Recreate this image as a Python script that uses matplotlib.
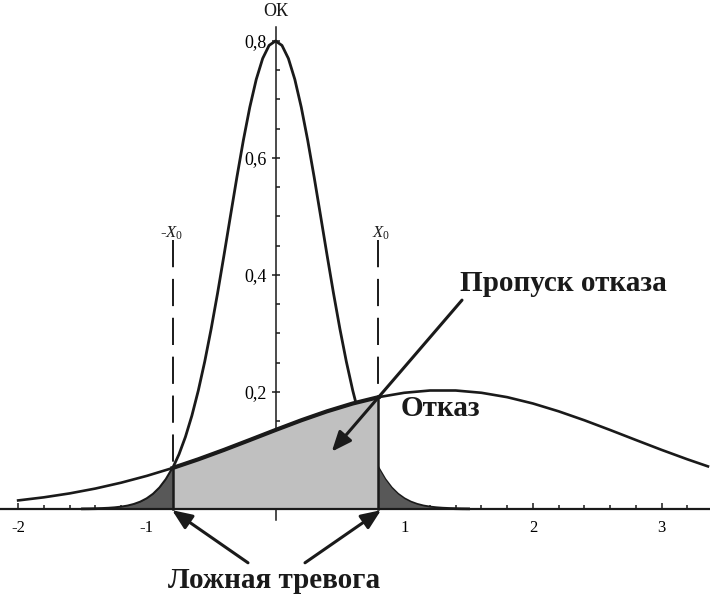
import numpy as np
import matplotlib.pyplot as plt

plt.rcParams['font.family'] = ['Liberation Serif', 'DejaVu Serif']
plt.rcParams['mathtext.fontset'] = 'custom'
plt.rcParams['mathtext.rm'] = 'Liberation Serif'
plt.rcParams['mathtext.it'] = 'Liberation Serif:italic'

# "ОК" curve (narrow)
ok_x = [-1.50, -1.45, -1.40, -1.35, -1.30, -1.25, -1.20, -1.15, -1.10, -1.05,
        -1.00, -0.95, -0.90, -0.85, -0.80, -0.75, -0.70, -0.65, -0.60, -0.55,
        -0.50, -0.45, -0.40, -0.35, -0.30, -0.25, -0.20, -0.15, -0.10, -0.05,
        0.00, 0.05, 0.10, 0.15, 0.20, 0.25, 0.30, 0.35, 0.40, 0.45,
        0.50, 0.55, 0.60, 0.65, 0.70, 0.75, 0.80, 0.85, 0.90, 0.95,
        1.00, 1.05, 1.10, 1.15, 1.20, 1.25, 1.30, 1.35, 1.40, 1.45, 1.50]
ok_y = [0.0002, 0.0003, 0.0005, 0.0008, 0.0013, 0.0021, 0.0033, 0.0051, 0.0079, 0.0119,
        0.0176, 0.0255, 0.0363, 0.0508, 0.0695, 0.0935, 0.1233, 0.1595, 0.2025, 0.2521,
        0.3081, 0.3693, 0.4344, 0.5012, 0.5674, 0.6302, 0.6867, 0.7342, 0.7700, 0.7924,
        0.8000, 0.7924, 0.7700, 0.7342, 0.6867, 0.6302, 0.5674, 0.5012, 0.4344, 0.3693,
        0.3081, 0.2521, 0.2025, 0.1595, 0.1233, 0.0935, 0.0695, 0.0508, 0.0363, 0.0255,
        0.0176, 0.0119, 0.0079, 0.0051, 0.0033, 0.0021, 0.0013, 0.0008, 0.0005, 0.0003, 0.0002]

# "Отказ" curve (wide)
fail_x = [-2.0, -1.8, -1.6, -1.4, -1.2, -1.0, -0.8, -0.6, -0.4, -0.2,
          0.0, 0.2, 0.4, 0.6, 0.8, 1.0, 1.2, 1.4, 1.6, 1.8,
          2.0, 2.2, 2.4, 2.6, 2.8, 3.0, 3.2, 3.36]
fail_y = [0.0146, 0.0199, 0.0266, 0.0349, 0.0449, 0.0566, 0.0700, 0.0849, 0.1010, 0.1179,
          0.1350, 0.1516, 0.1669, 0.1803, 0.1911, 0.1986, 0.2025, 0.2025, 0.1986, 0.1911,
          0.1803, 0.1669, 0.1516, 0.1350, 0.1179, 0.1010, 0.0849, 0.0728]

x0 = 0.8  # threshold X0

x_major = [-2, -1, 1, 2, 3]
x_labels = ['-2', '-1', '1', '2', '3']
y_major = [0.2, 0.4, 0.6, 0.8]
y_labels = ['0,2', '0,4', '0,6', '0,8']

ink = '#1a1a1a'
light = '#c0c0c0'
dark = '#585858'

ox, oy = np.array(ok_x), np.array(ok_y)
fx, fy = np.array(fail_x), np.array(fail_y)

fig = plt.figure(figsize=(7.1, 6), dpi=100)
ax = fig.add_axes([0, 0, 1, 1])
ax.set_xlim(-2.141, 3.376)
ax.set_ylim(-0.1556, 0.870)

for s in ['top', 'right']:
    ax.spines[s].set_visible(False)
ax.spines['left'].set_position(('data', 0))
ax.spines['bottom'].set_position(('data', 0))
ax.spines['left'].set_bounds(-0.019, 0.824)
ax.spines['left'].set_linewidth(1.1)
ax.spines['bottom'].set_linewidth(1.6)
ax.spines['bottom'].set_zorder(5)
ax.spines['left'].set_color(ink)
ax.spines['bottom'].set_color(ink)

ax.set_xticks(x_major, x_labels)
ax.set_xticks([v for v in np.round(np.arange(-2, 3.3, 0.2), 1) if v not in x_major and v != 0], minor=True)
ax.set_yticks(y_major, y_labels)
ax.set_yticks([v for v in np.round(np.arange(0.05, 0.8, 0.05), 2) if v not in y_major], minor=True)
ax.tick_params(axis='x', which='major', direction='in', length=4.3, width=1.1, pad=8, labelsize=12, color=ink)
ax.tick_params(axis='x', which='minor', direction='in', length=3, width=1.1, color=ink)
ax.tick_params(axis='y', which='major', direction='inout', length=5.8, width=1.1, pad=3.6, labelsize=13, color=ink)
ax.tick_params(axis='y', which='minor', direction='in', length=3.2, width=1.1, color=ink)

# shaded regions
m = (fx >= -x0 - 1e-9) & (fx <= x0 + 1e-9)
ax.fill_between(fx[m], 0, fy[m], color=light, lw=0, zorder=3)
ml = ox <= -x0 + 1e-9
mr = ox >= x0 - 1e-9
ax.fill_between(ox[ml], 0, oy[ml], color=dark, lw=0, zorder=3)
ax.fill_between(ox[mr], 0, oy[mr], color=dark, lw=0, zorder=3)

# curves
ax.plot(ox, oy, color=ink, lw=2.0, zorder=2.8)
ax.plot(fx, fy, color=ink, lw=1.9, zorder=4)
ax.plot(fx[m], fy[m], color=ink, lw=3.0, zorder=4.1)

# threshold lines
y_left, y_right = fy[m][0], fy[m][-1]
ax.plot([-x0, -x0], [0, y_left], color=ink, lw=1.8, zorder=4)
ax.plot([x0, x0], [0, y_right], color=ink, lw=1.8, zorder=4)
ax.plot([-x0, -x0], [0.46, y_left], color=ink, lw=1.4, ls=(0, (14, 6)), zorder=4)
ax.plot([x0, x0], [0.46, y_right], color=ink, lw=1.4, ls=(0, (14, 6)), zorder=4)

# labels
ax.text(0, 0.85, 'ОК', ha='center', va='center', fontsize=13, color=ink)
ax.text(-0.81, 0.472, r'-$\mathit{X}_{\mathit{0}}$', ha='center', va='center', fontsize=12, color=ink)
ax.text(0.82, 0.472, r'$\mathit{X}_{\mathit{0}}$', ha='center', va='center', fontsize=12, color=ink)
ax.text(2.234, 0.386, 'Пропуск отказа', ha='center', va='center', fontsize=21, fontweight='bold', color=ink)
ax.text(1.278, 0.171, 'Отказ', ha='center', va='center', fontsize=21, fontweight='bold', color=ink)
ax.text(-0.012, -0.123, 'Ложная тревога', ha='center', va='center', fontsize=21, fontweight='bold', color=ink)

# arrows
arrow = dict(arrowstyle='-|>,head_length=0.6,head_width=0.25', mutation_scale=20,
             lw=2.2, color=ink, shrinkA=0, shrinkB=0)
ax.annotate('', xy=(0.437, 0.098), xytext=(1.449, 0.357), arrowprops=arrow, zorder=6)
ax.annotate('', xy=(-0.804, -0.002), xytext=(-0.214, -0.092), arrowprops=arrow, zorder=6)
ax.annotate('', xy=(0.82, -0.002), xytext=(0.229, -0.092), arrowprops=arrow, zorder=6)

fig.savefig('out.png', dpi=100)
